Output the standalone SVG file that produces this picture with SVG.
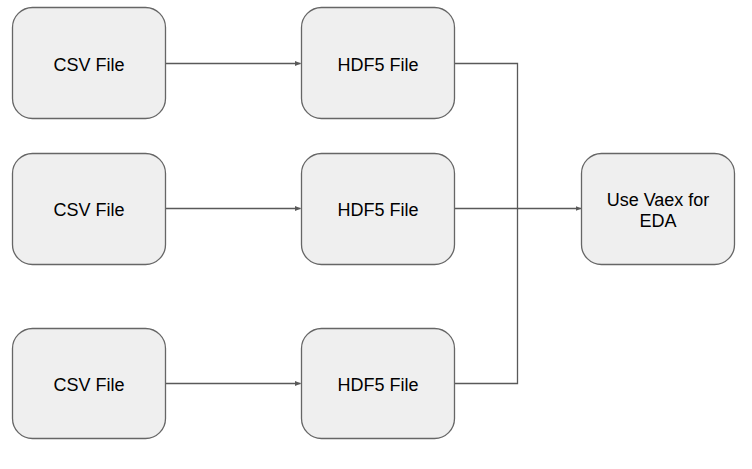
<svg xmlns="http://www.w3.org/2000/svg" width="752" height="469" viewBox="0 0 752 469">
<style>
.box{fill:#efefef;stroke:#666666;stroke-width:1.3}
.lbl{font-family:"Liberation Sans",Arial,sans-serif;font-size:18px;fill:#000000;text-anchor:middle}
.con{fill:none;stroke:#595959;stroke-width:1.3}
</style>
<defs>
<marker id="ah" markerWidth="6" markerHeight="5" refX="5.5" refY="2.5" orient="auto" markerUnits="userSpaceOnUse">
<path d="M0,0 L6,2.5 L0,5 Z" fill="#595959"/>
</marker>
</defs>
<rect width="752" height="469" fill="#ffffff"/>
<g id="connectors">
<path class="con" d="M165,63.5 H300.5" marker-end="url(#ah)"/>
<path class="con" d="M165,208.5 H300.5" marker-end="url(#ah)"/>
<path class="con" d="M165,383.5 H300.5" marker-end="url(#ah)"/>
<path class="con" d="M454,63.5 H517.5 V383.5 H454"/>
<path class="con" d="M454,208.5 H581" marker-end="url(#ah)"/>
</g>
<g id="csv1"><rect class="box" x="12.5" y="7.5" width="153" height="111" rx="20"/><text class="lbl" x="89" y="70.5">CSV File</text></g>
<g id="csv2"><rect class="box" x="12.5" y="153.5" width="153" height="111" rx="20"/><text class="lbl" x="89" y="215.5">CSV File</text></g>
<g id="csv3"><rect class="box" x="12.5" y="328.5" width="153" height="110" rx="20"/><text class="lbl" x="89" y="390.5">CSV File</text></g>
<g id="hdf1"><rect class="box" x="301.5" y="7.5" width="153" height="111" rx="20"/><text class="lbl" x="378" y="70.5">HDF5 File</text></g>
<g id="hdf2"><rect class="box" x="301.5" y="153.5" width="153" height="111" rx="20"/><text class="lbl" x="378" y="215.5">HDF5 File</text></g>
<g id="hdf3"><rect class="box" x="301.5" y="328.5" width="153" height="110" rx="20"/><text class="lbl" x="378" y="390.5">HDF5 File</text></g>
<g id="vaex"><rect class="box" x="581.5" y="153.5" width="153" height="111" rx="20"/><text class="lbl" x="658" y="206">Use Vaex for</text><text class="lbl" x="658" y="227">EDA</text></g>
</svg>
